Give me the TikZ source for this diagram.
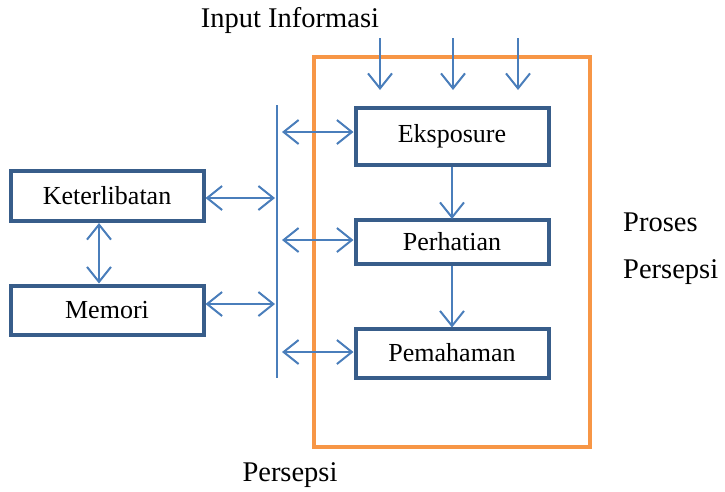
\documentclass[tikz,border=0pt]{standalone}
\usepackage{fontspec}
\setmainfont{Liberation Serif}
\usepackage{xcolor}
\usetikzlibrary{arrows.meta}

\definecolor{boxblue}{HTML}{385D8A}
\definecolor{lineblue}{HTML}{4A7EBB}
\definecolor{frameorange}{HTML}{F79646}

\begin{document}
\begin{tikzpicture}[x=1pt, y=-1pt,
    stagebox/.style={draw=boxblue, line width=4pt, fill=white, minimum width=193pt, inner sep=0pt, font=\fontsize{26}{30}\selectfont},
    barb/.tip={Straight Barb[length=15pt, width=24pt, line width=2pt]},
    flow/.style={draw=lineblue, line width=2pt, -barb},
    both/.style={draw=lineblue, line width=2pt, barb-barb},
    bigtext/.style={font=\fontsize{28.5}{32}\selectfont, inner sep=0pt}]
\useasboundingbox (0,0) rectangle (725,491);

% Perception process frame
\draw[frameorange, line width=4pt] (314,57) rectangle (590,447);

% Stages
\node[stagebox, minimum height=57pt] (eks) at (452,136) {Eksposure};
\node[stagebox, minimum height=44pt] (per) at (452,242) {Perhatian};
\node[stagebox, minimum height=49pt] (pem) at (452,353) {Pemahaman};

% Personal factors
\node[stagebox, minimum height=50pt] (ket) at (107,196) {Keterlibatan};
\node[stagebox, minimum height=49pt] (mem) at (107,310) {Memori};

% Vertical bus
\coordinate (bustop) at (277,105);
\coordinate (busbot) at (277,378);
\draw[lineblue, line width=2pt] (bustop) -- (busbot);

% Input arrows
\foreach \x/\name in {380/ina, 453/inb, 518/inc} {
    \coordinate (\name) at (\x,38);
    \coordinate (\name end) at (\x,90);
    \draw[flow] (\name) -- (\name end);
}

% Flow between stages
\draw[flow] (eks.south) -- ([yshift=-1pt]per.north);
\draw[flow] (per.south) -- ([yshift=-1pt]pem.north);

% Bus to stages
\foreach \y/\target in {132/eks, 240/per, 352/pem} {
    \coordinate (b\target) at (282,\y);
    \draw[both] (b\target) -- (\target.west |- b\target);
}

% Factors to bus
\coordinate (bket) at (275,198);
\coordinate (bmem) at (275,304);
\draw[both] (ket.east |- bket) -- (bket);
\draw[both] (mem.east |- bmem) -- (bmem);
\draw[both] ([xshift=-8pt]ket.south) -- ([xshift=-8pt]mem.north);

% Labels
\node[bigtext] (input) at (290,20) {Input Informasi};
\node[bigtext, anchor=west] (proses) at (623,222) {Proses};
\node[bigtext, anchor=west] (persepsi) at (623,272) {Persepsi};
\node[bigtext] (judul) at (290,475) {Persepsi};
\end{tikzpicture}
\end{document}
